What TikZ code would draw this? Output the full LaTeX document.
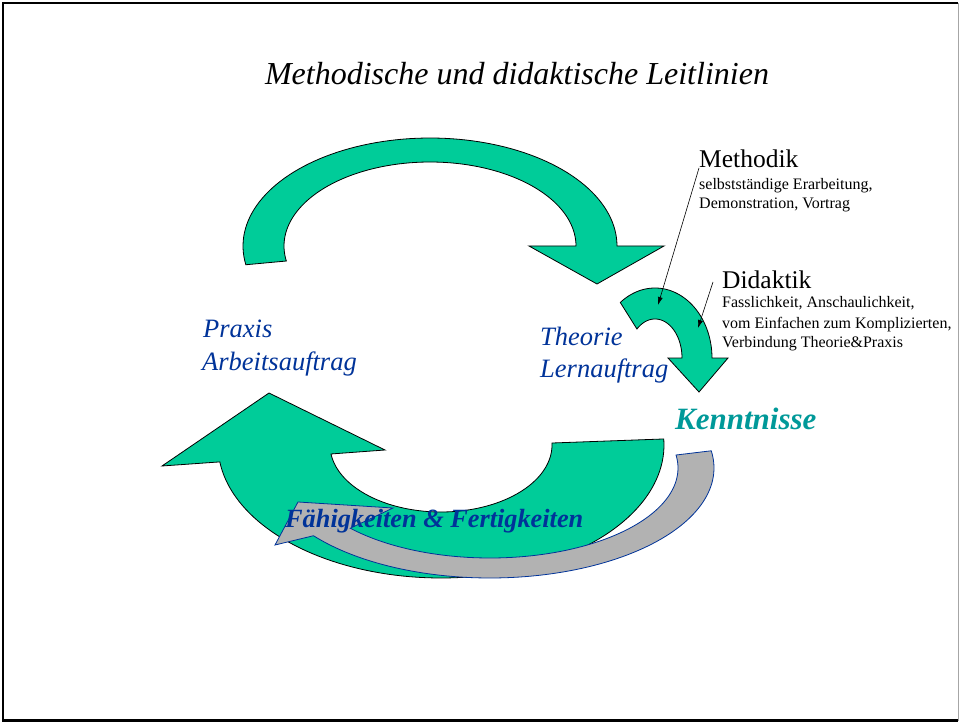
\documentclass[tikz,border=0pt]{standalone}
\usepackage{fontspec}
\setmainfont{Liberation Serif}
\usetikzlibrary{arrows.meta}
\definecolor{bandgreen}{HTML}{00CC99}
\definecolor{bandgray}{HTML}{B2B2B2}
\definecolor{textblue}{HTML}{003399}
\definecolor{textteal}{HTML}{009999}
\begin{document}
\begin{tikzpicture}[x=1pt,y=-1pt,
  greenband/.style={fill=bandgreen,draw=black,line width=0.8pt,line join=miter},
  grayband/.style={fill=bandgray,draw=textblue,line width=0.8pt,line join=miter},
  lbl/.style={inner sep=0pt,anchor=base west},
  bluetext/.style={lbl,text=textblue,font=\fontsize{26.5}{32}\selectfont\itshape},
  headtext/.style={lbl,font=\fontsize{25.5}{30}\selectfont},
  smalltext/.style={lbl,font=\fontsize{16}{19}\selectfont},
  callout/.style={draw=black,line width=0.6pt,-{Latex[length=8pt,width=5pt]}}]
\useasboundingbox (0,0) rectangle (959,722);
\fill[white] (0,0) rectangle (959,722);

% page frame
\draw[line width=2.5pt] (958,3) -- (3,3) -- (3,720.5) -- (958,720.5);
\draw[black!35,line width=0.8pt] (958.5,3) -- (958.5,720.5);

% upper curved arrow (Praxis -> Theorie)
\path[greenband]
  plot[domain=170:360,samples=90] ({430+187*cos(\x)},{246+108*sin(\x)})
  -- (664,246) -- (597,284) -- (529,246)
  -- plot[domain=360:169.7,samples=90] ({430+146*cos(\x)},{246+84*sin(\x)})
  -- cycle;

% lower curved arrow (back to Praxis)
\path[greenband]
  plot[domain=-2.6:172.7,samples=90] ({441+223*cos(\x)},{445+133*sin(\x)})
  -- (162,466) -- (269,393) -- (385,450)
  -- plot[domain=172.3:-1.7,samples=90] ({441+111*cos(\x)},{445+67*sin(\x)})
  -- cycle;

% grey feedback arrow
\path[grayband]
  (275,545) -- (298,502) -- (393,508)
  -- plot[domain=138:-8.3,samples=90] ({490+188*cos(\x)},{468+90*sin(\x)})
  -- plot[domain=-9:142,samples=90] ({490+224*cos(\x)},{468+110*sin(\x)})
  -- cycle;

% small arrow (Theorie -> Kenntnisse)
\path[greenband]
  plot[domain=232.5:360,samples=60] ({655+57*cos(\x)},{358+70*sin(\x)})
  -- (728,358) -- (699,392) -- (668,358)
  -- plot[domain=360:228,samples=60] ({655+27*cos(\x)},{358+39*sin(\x)})
  -- cycle;

% title
\node[inner sep=0pt,anchor=base,font=\fontsize{32}{38}\selectfont\itshape] (title) at (517,85)
  {Methodische und didaktische Leitlinien};

% stage labels
\node[bluetext] (praxis) at (203,337) {Praxis};
\node[bluetext] (arbeit) at (202,370) {Arbeitsauftrag};
\node[bluetext] (theorie) at (540,345) {Theorie};
\node[bluetext] (lern) at (540,377) {Lernauftrag};
\node[lbl,text=textteal,font=\fontsize{31}{36}\selectfont\bfseries\itshape] (kennt) at (675,429) {Kenntnisse};
\node[lbl,text=textblue,font=\fontsize{26.3}{31}\selectfont\bfseries\itshape] (faehig) at (285,527)
  {Fähigkeiten \& Fertigkeiten};

% Methodik annotation
\node[headtext] (methodik) at (699,168) {Methodik};
\node[smalltext] (meth1) at (699,190) {selbstständige Erarbeitung,};
\node[smalltext] (meth2) at (699,209) {Demonstration, Vortrag};

% Didaktik annotation
\node[headtext] (didaktik) at (722,288) {Didaktik};
\node[smalltext] (did1) at (722,308) {Fasslichkeit, Anschaulichkeit,};
\node[smalltext] (did2) at (722,328) {vom Einfachen zum Komplizierten,};
\node[smalltext] (did3) at (722,347) {Verbindung Theorie\&Praxis};

% pointer lines
\coordinate (mtip) at (658,305);
\coordinate (dstart) at (713,282);
\coordinate (dtip) at (698,328);
\draw[callout] (methodik.base west) -- (mtip);
\draw[callout] (dstart) -- (dtip);
\end{tikzpicture}
\end{document}
